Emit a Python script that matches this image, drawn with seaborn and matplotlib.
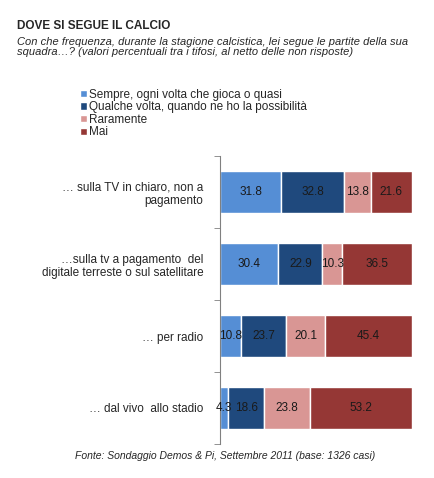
import matplotlib
matplotlib.use("Agg")
import matplotlib.pyplot as plt
import seaborn as sns
import numpy as np

categories = ["… sulla TV in chiaro, non a\npagamento",
              "…sulla tv a pagamento  del\ndigitale terreste o sul satellitare",
              "… per radio",
              "… dal vivo  allo stadio"]
series = ["Sempre, ogni volta che gioca o quasi",
          "Qualche volta, quando ne ho la possibilità",
          "Raramente", "Mai"]
sempre = [31.8, 30.4, 10.8, 4.3]
qualche = [32.8, 22.9, 23.7, 18.6]
raramente = [13.8, 10.3, 20.1, 23.8]
mai = [21.6, 36.5, 45.4, 53.2]
colors = ["#558ED5", "#1F497D", "#D99694", "#953735"]

sns.set_style("white")
plt.rcParams['font.family'] = ['Liberation Sans', 'DejaVu Sans']

fig = plt.figure(figsize=(4.35, 4.78), dpi=100)
ax = fig.add_axes([220 / 435, 1 - 444 / 478, 192 / 435, 288 / 478])

y = np.arange(len(categories))
left = np.zeros(len(categories))
for name, vals, col in zip(series, [sempre, qualche, raramente, mai], colors):
    vals = np.array(vals)
    sns.barplot(x=vals, y=y, left=left, orient="h", color=col, width=0.58,
                saturation=1, ax=ax, label=name, native_scale=True)
    for yi, (l, v) in enumerate(zip(left, vals)):
        ax.text(l + v / 2, yi, f"{v:.1f}", ha="center", va="center", fontsize=8.5, color="#1a1a1a")
    left += vals

handles, labels = ax.get_legend_handles_labels()
if ax.get_legend() is not None:
    ax.get_legend().remove()

ax.set_xlim(0, 100)
ax.set_ylim(3.5, -0.5)
ax.set_yticks(y)
ax.set_yticklabels(categories, fontsize=8.5, ha="right")
ax.set_xticks([])
ax.set_xlabel("")
ax.set_ylabel("")
for s in ["top", "right", "bottom"]:
    ax.spines[s].set_visible(False)
ax.spines["left"].set_color("#808080")
ax.tick_params(axis="y", which="major", length=0, pad=12)
ax.set_yticks(np.arange(-0.5, 4, 1), minor=True)
ax.tick_params(axis="y", which="minor", length=4, color="#808080", left=True)

fig.legend(handles, labels, loc="upper left", bbox_to_anchor=(75 / 435, 1 - 84 / 478),
           frameon=False, fontsize=8.5, handlelength=0.6, handleheight=0.6,
           handletextpad=0.2, labelspacing=0.05, borderaxespad=0)

fig.text(17 / 435, 1 - 26 / 478, "DOVE SI SEGUE IL CALCIO", fontsize=8.5, fontweight="bold", va="center")
fig.text(17 / 435, 1 - 47 / 478,
         "Con che frequenza, durante la stagione calcistica, lei segue le partite della sua\n"
         "squadra…? (valori percentuali tra i tifosi, al netto delle non risposte)",
         fontsize=8, style="italic", va="center", linespacing=1.05)
fig.text(225 / 435, 1 - 456 / 478,
         "Fonte: Sondaggio Demos & Pi, Settembre 2011 (base: 1326 casi)",
         fontsize=7.5, style="italic", ha="center", va="center")

fig.savefig("out.png", dpi=100)
